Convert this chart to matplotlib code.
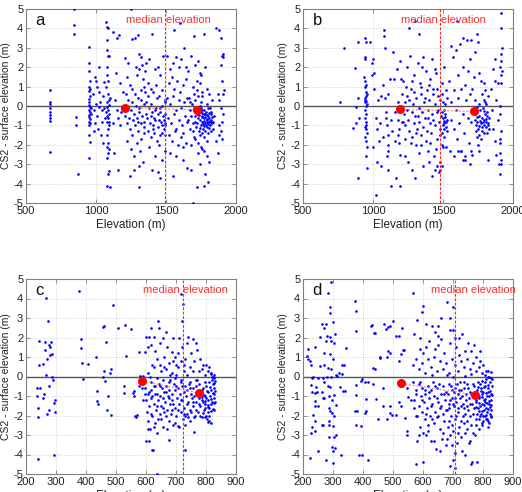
import matplotlib
matplotlib.use('Agg')
import matplotlib.pyplot as plt

plt.rcParams['font.family'] = ['Liberation Sans', 'DejaVu Sans']
plt.rcParams['axes.unicode_minus'] = False

# ---------------- Panel a ----------------
a_pts = [
(668,0.8),(668,0.2),(668,0.1),(668,-0.1),(668,-0.3),(668,-0.45),(668,-0.6),(668,-0.75),(668,-2.35),
(845,5.0),(845,4.2),(845,3.7),(855,-0.55),(860,-1.0),(868,-3.5),
(950,3.05),(948,2.2),(952,1.8),(955,1.3),(950,1.0),(948,0.75),(955,0.5),(950,0.35),(953,0.2),(948,0.05),
(956,-0.05),(950,-0.2),(954,-0.3),(948,-0.45),(952,-0.55),(957,-0.65),(950,-0.8),(955,-0.9),(948,-1.0),
(952,-1.5),(955,-1.85),(948,-2.7),(960,0.9),(962,-0.4),(965,-0.1),
(975,0.6),(985,-0.2),(990,1.5),(995,-0.9),(1000,1.3),(1005,-0.5),(1010,1.0),(1012,-1.2),(1018,2.0),
(1020,0.7),(1025,-0.05),(1030,0.2),(1035,-1.5),(1040,-0.2),(1042,-0.8),(1048,0.5),(1052,-1.9),(1058,-0.1),
(1060,1.25),(1062,-0.6),(1000,0.1),(985,-1.3),
(1075,4.35),(1080,4.05),(1085,4.0),(1078,3.4),(1080,2.9),(1085,2.6),(1082,2.0),(1078,1.6),(1088,1.3),
(1075,1.0),(1085,0.6),(1090,0.3),(1078,0.2),(1092,0.05),(1080,-0.05),(1088,-0.2),(1075,-0.3),(1092,-0.4),
(1082,-0.5),(1086,-0.6),(1078,-0.8),(1090,-1.0),(1084,-1.2),(1076,-1.5),(1088,-1.9),(1080,-2.1),(1090,-2.2),
(1085,-2.4),(1078,-2.7),(1092,-3.35),(1086,-3.5),(1080,-4.1),(1098,-4.2),(1095,-0.8),(1098,0.4),(1096,2.6),
(1120,3.8),(1150,3.5),(1165,3.65),(1135,0.3),(1145,1.7),(1160,-0.6),(1170,1.2),(1175,-1.0),(1150,-0.2),
(1120,-0.9),(1130,-2.4),(1155,-3.3),(1180,-0.3),(1190,0.7),
(1210,2.45),(1230,2.2),(1250,5.0),(1260,3.45),(1280,3.5),(1300,3.65),(1310,2.7),(1320,2.5),(1330,2.1),
(1220,1.5),(1240,1.1),(1260,0.9),(1280,0.6),(1300,0.4),(1320,0.8),(1340,1.0),(1350,0.7),(1230,0.3),
(1250,-0.2),(1270,-0.4),(1290,-0.6),(1310,-0.3),(1330,-0.5),(1345,-0.8),(1220,-0.9),(1240,-1.2),(1260,-1.5),
(1280,-1.0),(1300,-1.3),(1320,-1.7),(1340,-1.1),(1225,-1.8),(1250,-2.2),(1275,-2.6),(1295,-1.9),(1315,-2.3),
(1335,-2.9),(1270,-3.3),(1310,-3.1),(1310,-4.2),(1240,-3.6),(1205,-0.5),(1215,0.6),(1230,-0.1),(1260,0.2),
(1285,0.0),(1305,-0.1),(1325,0.3),(1345,0.1),(1290,1.6),(1310,1.9),(1335,1.4),(1350,1.8),(1285,2.0),
(1300,-0.8),(1325,-0.9),(1265,-0.7),(1235,-0.6),
(1360,2.2),(1380,2.4),(1400,3.7),(1420,1.9),(1440,2.0),(1460,1.6),(1480,2.6),(1370,1.2),(1390,0.9),
(1410,0.7),(1430,1.1),(1450,0.5),(1470,0.8),(1490,0.3),(1360,0.2),(1380,-0.1),(1400,-0.3),(1420,-0.2),
(1440,-0.4),(1460,-0.1),(1480,-0.5),(1365,-0.6),(1385,-0.9),(1405,-1.0),(1425,-0.7),(1445,-1.1),(1465,-0.8),
(1485,-1.2),(1370,-1.3),(1395,-1.6),(1415,-1.4),(1435,-1.8),(1455,-1.5),(1475,-1.0),(1495,-0.9),(1380,-2.1),
(1420,-2.6),(1450,-2.0),(1470,-2.8),(1490,-2.3),(1400,-3.3),(1440,-3.4),(1460,-3.7),(1355,-0.4),(1375,0.5),
(1395,0.1),(1415,-0.6),(1435,0.4),(1455,-0.3),(1475,0.0),(1495,-0.4),(1345,-1.4),(1390,-0.5),(1410,-1.2),
(1430,-0.1),(1450,-0.7),(1470,-1.4),(1488,-0.7),(1492,-1.0),(1490,-1.5),(1492,0.2),
(1510,2.6),(1530,1.9),(1550,2.2),(1570,2.5),(1590,2.0),(1610,2.4),(1640,2.0),(1560,3.9),(1600,4.3),
(1630,3.0),(1520,1.2),(1540,1.5),(1560,0.9),(1580,1.3),(1600,0.7),(1620,1.1),(1645,1.4),(1510,0.4),
(1530,0.1),(1550,0.5),(1570,-0.2),(1590,0.3),(1610,-0.1),(1630,0.2),(1650,0.4),(1515,-0.6),(1535,-0.9),
(1555,-0.4),(1575,-1.2),(1595,-0.7),(1615,-1.0),(1635,-0.5),(1650,-0.8),(1520,-1.5),(1545,-1.8),(1565,-1.3),
(1585,-2.0),(1605,-1.6),(1625,-1.4),(1645,-1.9),(1530,-2.4),(1570,-2.6),(1620,-2.8),(1550,-3.6),(1650,-3.2),
(1680,-3.3),(1690,-5.0),(1620,-2.1),
(1660,1.8),(1680,2.6),(1700,3.6),(1710,2.1),(1730,2.3),(1750,1.6),(1770,3.7),(1780,2.0),(1690,1.0),
(1720,0.8),(1740,1.2),(1760,0.5),(1790,0.9),(1810,0.6),(1830,0.3),(1670,0.2),(1700,-0.1),(1720,-0.3),
(1740,0.0),(1760,-0.2),(1780,-0.4),(1800,-0.1),(1820,-0.3),(1840,-0.5),
(1705,-0.5),(1710,-0.8),(1715,-1.1),(1720,-0.4),(1725,-0.9),(1730,-0.6),(1735,-1.3),(1740,-0.3),(1745,-0.7),
(1750,-1.0),(1755,-0.5),(1760,-0.8),(1765,-1.2),(1770,-0.4),(1775,-0.6),(1780,-0.9),(1785,-0.3),(1790,-0.7),
(1795,-1.1),(1800,-0.5),(1805,-0.8),(1810,-0.6),(1815,-1.0),(1820,-0.4),(1825,-0.7),(1830,-0.9),(1835,-1.2),
(1740,-1.5),(1760,-1.4),(1780,-1.3),(1800,-1.4),(1820,-1.3),(1725,-0.2),(1750,-0.1),(1775,-0.2),(1795,0.1),
(1815,-0.1),(1760,-0.55),(1770,-0.75),(1780,-0.55),(1790,-0.85),(1800,-0.95),(1810,-0.35),(1785,-1.0),
(1765,-0.95),(1755,-0.35),(1745,-1.15),(1735,-0.45),(1790,-0.45),(1805,-1.15),(1820,-0.85),(1775,-1.05),
(1795,-0.65),(1812,-0.75),(1828,-0.55),(1838,-0.8),(1700,-0.2),(1690,-0.9),(1680,-0.5),(1670,-1.2),
(1695,-1.3),(1710,0.3),(1730,0.5),(1750,0.2),(1760,0.7),(1720,1.3),(1740,1.7),(1700,0.6),(1685,0.1),
(1675,-0.2),(1665,0.4),(1660,-0.7),(1770,-1.6),(1790,-1.8),(1750,-2.1),(1730,-2.4),(1710,-1.7),
(1700,-1.6),(1730,-1.9),(1760,-2.2),(1770,-2.3),(1790,-2.6),(1810,-2.9),(1780,-3.5),(1800,-3.9),
(1770,-4.1),(1720,-4.2),(1740,-3.0),(1680,-2.0),
(1860,4.0),(1880,3.9),(1890,3.5),(1900,2.6),(1910,2.5),(1890,2.1),(1900,1.3),(1870,0.6),(1880,0.3),
(1890,-0.1),(1900,-0.8),(1910,-0.4),(1880,-1.0),(1890,-1.3),(1900,-1.7),(1860,-1.8),(1870,-2.4),
(1880,-1.5),(1910,0.6),(1912,0.8),(1905,2.7),
]
a_median = 1490
a_red_x = [1210, 1720]
a_red_y = [-0.08, -0.2]

# ---------------- Panel b ----------------
b_pts = [
(765,0.2),(795,3.0),(860,-1.15),(870,1.95),(880,-0.05),(890,3.3),(895,-3.7),(900,-0.6),(895,0.4),(880,-0.9),
(942,3.5),(948,3.3),(940,2.5),(945,2.4),(938,1.5),(944,1.3),(950,1.1),(942,1.0),(948,0.7),(952,0.5),
(940,0.4),(946,0.3),(950,0.25),(943,0.2),(955,0.1),(948,0.0),(944,-0.2),(952,-0.4),(940,-0.6),(947,-0.8),
(953,-1.0),(941,-1.1),(949,-1.2),(955,-1.4),(945,-1.6),(951,-1.8),(958,-2.1),(948,-2.6),(955,-3.2),(960,0.6),
(980,3.3),(990,2.2),(1000,2.4),(995,1.6),(1000,-2.1),(1005,1.7),(1010,0.9),(1020,-0.6),(1025,-1.2),(1030,-2.9),
(1035,0.3),(1040,-1.8),(1050,-0.9),(1055,-3.1),(1060,0.5),(1070,-1.6),(1075,3.9),(1080,3.6),(1085,3.0),
(1070,1.1),(1085,0.4),(1090,-0.3),(1095,-0.6),(1100,-1.0),(1105,-1.5),(1110,-2.0),(1105,-2.3),(1100,-2.6),
(1110,0.6),(1110,-3.3),(1120,1.4),(1125,-4.1),(1130,-0.7),(1135,-1.3),(1140,2.8),(1150,1.4),(1155,-1.8),
(1160,-0.3),(1165,-3.7),(1170,1.9),(1175,0.2),(1180,-0.2),(1180,-0.7),(1185,-1.2),(1180,-1.5),(1185,-1.9),
(1190,2.3),(1195,-2.5),(1195,-4.1),(1200,1.4),(1210,-0.8),(1020,-4.6),
(1205,0.6),(1215,1.3),(1220,-0.4),(1225,0.2),(1230,-1.0),(1235,1.0),(1240,-0.2),(1245,0.5),(1250,-0.7),
(1255,4.0),(1260,-1.3),(1265,2.6),(1270,0.9),(1275,-0.3),(1280,-1.6),(1285,0.1),(1290,-0.9),(1295,1.6),
(1300,-0.5),(1305,-2.0),(1310,0.4),(1315,-1.2),(1320,2.2),(1325,-0.1),(1330,-0.8),(1335,1.2),(1340,-1.5),
(1345,0.6),(1350,-0.3),(1355,2.5),(1360,-1.1),(1365,0.2),(1370,-0.6),(1375,1.8),(1380,-1.8),(1385,0.8),
(1390,-0.2),(1395,-2.3),(1400,0.3),(1405,-0.9),(1410,1.4),(1415,-1.4),(1420,-0.4),(1425,0.9),(1430,-0.7),
(1435,-2.6),(1440,0.1),(1445,-1.0),(1450,1.7),(1455,-0.3),(1460,-1.7),(1465,0.5),(1470,-0.8),(1475,-1.2),
(1480,0.3),(1485,-0.5),(1490,-2.0),(1230,-2.6),(1250,-2.9),(1280,-3.3),(1300,-3.7),(1330,-2.4),(1360,-3.1),
(1400,-2.9),(1420,-3.6),(1440,-3.3),(1460,-3.1),(1470,-3.4),(1300,4.4),(1330,3.7),(1350,2.0),(1240,2.0),
(1225,-1.7),(1270,-1.9),(1310,-1.4),(1345,-2.0),(1385,-1.3),(1410,-1.9),(1450,-2.2),(1465,-0.2),(1215,-0.8),
(1260,0.3),(1290,0.7),(1320,-0.5),(1370,0.4),(1395,-0.6),(1430,0.6),(1455,0.9),(1280,1.3),(1340,1.0),
(1400,1.1),(1420,2.4),(1440,1.9),
(1495,-0.3),(1500,-0.6),(1505,-0.9),(1510,-1.2),(1515,-0.4),(1520,-0.8),(1505,-0.2),(1498,-1.0),(1512,-0.55),
(1518,-1.1),(1508,-0.75),(1502,0.2),(1515,0.1),(1495,-1.4),(1510,-1.6),(1520,-2.1),(1500,-2.1),(1525,-0.7),
(1530,-1.3),(1528,0.4),(1490,0.6),(1495,1.2),(1510,2.0),(1520,0.8),(1480,-1.5),(1475,-2.9),(1480,-3.3),
(1495,-3.1),
(1545,1.3),(1555,0.2),(1560,-0.7),(1570,2.5),(1575,-1.2),(1580,0.8),(1590,-0.2),(1595,2.9),(1600,-1.7),
(1605,1.6),(1610,0.4),(1615,-0.9),(1620,3.2),(1625,-2.3),(1630,0.9),(1640,-0.4),(1645,2.0),(1650,-1.4),
(1655,1.1),(1660,-2.6),(1665,0.3),(1670,3.4),(1675,-0.6),(1680,1.8),(1685,-1.9),(1690,0.6),(1695,2.4),
(1700,-0.8),(1550,-2.3),(1580,-2.6),(1610,-2.3),(1630,-2.3),(1640,-2.8),(1660,-2.8),(1690,-3.0),(1700,-2.3),
(1710,-2.5),(1560,3.1),(1600,4.4),(1640,3.5),(1700,3.4),(1745,3.7),(1750,3.3),(1730,2.8),(1720,1.5),(1710,0.9),
(1725,-0.4),(1730,-0.7),(1735,-1.0),(1740,-0.3),(1745,-0.8),(1750,-1.2),(1755,-0.5),(1760,-1.5),(1765,-0.2),
(1770,-0.9),(1775,-0.6),(1780,-1.3),(1785,-0.1),(1790,-0.7),(1795,-1.0),(1800,-0.4),(1805,-1.1),(1810,-0.8),
(1815,-0.3),(1820,-1.0),(1825,-0.6),(1828,-1.2),(1790,0.3),(1800,0.2),(1810,0.1),(1795,-1.4),(1815,-0.5),
(1805,-0.65),(1775,-1.1),(1765,-0.75),(1755,-1.05),(1745,-0.55),(1735,-1.3),(1785,-0.85),(1795,-0.25),
(1820,-0.9),(1812,-1.4),(1760,0.1),(1740,-1.6),(1750,-2.0),(1770,-1.7),(1780,0.6),(1770,1.3),(1760,1.7),
(1790,1.2),(1800,0.8),(1820,0.5),(1840,0.9),(1850,-0.2),(1860,1.9),(1870,1.3),(1880,0.3),(1890,-0.7),
(1860,-1.2),(1870,-1.8),(1880,-2.5),(1890,1.2),(1870,2.4),(1820,-2.8),(1760,-2.3),(1740,-0.05),(1730,0.3),
(1915,4.8),(1915,4.0),(1918,3.0),(1912,2.7),(1915,2.3),(1910,2.0),(1918,1.8),(1912,1.6),(1915,1.2),
(1905,0.0),(1910,-0.4),(1912,-1.3),(1905,-1.7),(1908,-2.4),(1915,-2.8),(1912,-3.0),(1910,-3.5),(1900,-3.0),
(1905,-1.9),
]
b_median = 1475
b_red_x = [1195, 1720]
b_red_y = [-0.18, -0.28]

# ---------------- Panel c ----------------
c_pts = [
(235,-0.6),(238,-1.0),(240,-1.6),(240,-2.1),(240,-4.25),(243,1.8),(242,0.6),(245,-0.6),(255,-1.1),(258,0.65),
(260,-0.9),(262,1.75),(263,1.35),(265,4.05),(266,0.1),(270,0.9),(270,-1.9),(272,2.85),(275,1.6),(278,-0.5),
(280,1.1),(280,1.5),(283,1.75),(285,0.0),(290,-0.2),(292,-1.35),(292,-4.05),(295,-1.8),(298,-1.2),
(285,1.15),(278,-1.7),
(378,4.4),(382,1.9),(383,1.45),(387,0.7),(390,-0.15),(405,0.65),(433,1.0),(435,-0.75),(438,-1.25),(440,-1.4),
(455,0.0),(458,2.55),(459,2.6),(460,0.3),(462,-0.25),(466,1.75),(470,-1.7),(472,-1.0),(480,0.2),(483,0.4),
(483,-1.95),(490,3.65),(505,2.5),(525,-0.5),(527,-0.85),(530,2.65),(532,1.05),(550,2.45),(555,-0.85),
(560,-0.75),(560,-1.0),(562,-2.05),(565,-2.1),(570,-1.95),(575,1.25),(578,-0.5),(580,0.05),(590,0.05),
(595,1.25),(600,2.05),(605,1.5),(610,2.05),(612,-0.05),(615,2.5),(618,1.6),(620,0.6),(625,2.05),(630,1.3),
(635,0.9),(640,2.85),(642,2.5),(645,1.7),(650,0.3),(655,2.0),(660,1.0),(665,2.3),(670,1.5),(675,0.7),
(680,0.1),(685,1.25),(690,2.0),(695,1.0),(700,0.6),(705,1.2),(710,2.0),(715,0.8),(720,1.5),(725,0.3),
(730,0.9),(735,1.7),(740,2.05),(745,0.5),(750,1.2),(755,1.9),(760,0.8),(765,1.7),(770,1.35),(775,0.3),
(780,0.9),(785,0.4),(790,0.6),(795,0.1),(800,0.6),(805,0.3),(810,0.5),(815,0.2),(820,0.0),(825,-0.1),
(605,0.2),(615,-0.3),(625,0.5),(635,-0.1),(645,0.6),(655,-0.2),(665,0.4),(675,-0.3),(685,0.2),(695,-0.1),
(705,0.5),(715,-0.2),(725,0.6),(735,0.1),(745,-0.3),(755,0.3),(765,-0.2),(700,0.1),(690,0.8),(660,0.5),
(630,-0.5),
(595,-0.6),(600,-1.2),(602,-1.8),(605,-0.9),(608,-2.3),(610,-1.5),(612,-2.7),(615,-0.7),(618,-1.1),(620,-2.0),
(622,-3.75),(625,-1.4),(628,-0.5),(630,-2.4),(632,-1.7),(635,-0.9),(638,-2.9),(640,-1.2),(642,-0.4),(645,-1.9),
(648,-1.0),(650,-2.2),(652,-0.6),(655,-1.6),(658,-2.6),(660,-0.8),(662,-1.3),(665,-2.0),(668,-0.5),(670,-1.7),
(672,-1.0),(675,-2.3),(678,-0.7),(680,-1.4),(682,-1.9),(685,-0.9),(688,-1.2),(690,-2.5),(692,-0.4),(695,-1.6),
(698,-0.7),(700,-2.0),(702,-1.1),(705,-2.55),(708,-0.6),(710,-1.4),(712,-0.9),(715,-1.8),(718,-0.3),(720,-1.2),
(722,-2.2),(725,-0.8),(728,-1.6),(730,-0.5),(732,-1.0),(735,-1.9),(738,-0.7),(740,-1.3),(742,-0.4),(745,-1.7),
(748,-2.3),(750,-0.9),(752,-1.1),(755,-0.6),(758,-1.5),(760,-1.0),(762,-2.0),(765,-0.5),(768,-1.3),(770,-0.8),
(772,-1.8),(775,-1.1),(778,-0.4),(780,-1.5),(782,-0.9),(785,-2.1),(788,-1.2),(790,-0.6),(792,-1.7),(795,-1.0),
(798,-1.4),(800,-0.5),(802,-2.2),(805,-1.2),(808,-0.8),(810,-1.6),(812,-1.0),(815,-2.4),(818,-0.7),(820,-1.3),
(822,-0.4),(825,-1.1),(828,-0.9),(830,-1.3),(828,-0.6),(825,-1.7),(820,-0.2),(815,-1.4),(810,-0.3),(805,-1.8),
(800,-1.1),(795,-0.3),(790,-1.3),(785,-0.7),(780,-2.0),(775,-1.4),(770,-0.2),(765,-1.7),(760,-2.1),(755,-1.3),
(750,-1.8),(745,-0.6),(740,-2.1),(735,-1.4),(730,-2.0),(725,-1.9),(720,-0.5),(715,-1.2),(710,-2.6),(705,-1.7),
(700,-0.5),(695,-2.4),(690,-1.4),(685,-1.7),(680,-0.2),(675,-1.1),(670,-2.7),(665,-0.8),(660,-1.8),(655,-1.1),
(650,-1.5),(645,-0.5),(640,-2.2),(635,-1.5),(630,-0.9),(625,-2.6),(620,-1.0),(615,-1.9),(610,-0.8),(605,-2.7),
(600,-3.3),(598,-0.9),(590,-1.2),(585,-0.6),(620,-3.75),(610,-3.3),(678,-3.25),(635,-5.0),(730,-3.75),
(760,-2.85),(730,-2.5),
(792,-0.95),(798,-1.25),(803,-0.75),(808,-1.45),(813,-0.55),(817,-1.15),(822,-0.85),(826,-1.35),(829,-0.75),
(795,-1.6),(805,-1.55),(815,-1.75),(823,-1.65),(785,-1.05),(780,-0.75),(790,-1.85),(800,-2.0),(810,-2.0),
(810,-2.3),(805,-2.35),(795,-2.1),(825,-0.35),(829,-0.25),(826,0.1),(823,-0.05),(818,0.15),
(715,4.25),(720,2.85),(723,3.7),
]
c_median = 722
c_red_x = [585, 776]
c_red_y = [-0.22, -0.85]

# ---------------- Panel d ----------------
d_pts = [
(293,4.84),(283,4.26),(289,3.55),(291,3.24),(374,3.89),(378,3.38),(300,2.78),(278,2.71),(262,2.71),(270,2.49),
(306,2.2),(378,2.33),(256,2.04),(281,2.06),(294,1.84),(303,1.72),(241,1.51),(217,1.43),(342,1.46),(269,1.22),
(289,1.14),(300,0.9),(214,1.07),(222,0.81),(258,0.52),(269,0.57),(284,0.44),(294,0.38),(330,0.57),(433,0.44),
(456,0.95),(483,1.29),(481,1.02),(437,2.21),(430,2.66),(483,2.54),(500,2.83),(530,2.49),(511,2.06),(533,1.36),
(526,1.14),(478,2.45),
(233,-0.03),(250,-0.06),(267,-0.08),(280,-0.04),(294,0.0),(311,0.06),(331,0.13),(394,-0.21),(417,-0.28),
(433,-0.38),(378,-0.45),(228,-0.45),(244,-0.56),(283,-0.5),(333,-0.76),(239,-0.85),(267,-1.1),(287,-1.02),
(298,-1.19),(239,-1.27),(378,-0.93),(411,-1.17),(444,-1.14),(311,-1.44),(239,-1.53),(467,-1.53),(520,-1.31),
(528,-1.53),(374,-1.79),(406,-1.89),(289,-1.79),(233,-1.96),(450,-2.18),(489,-1.87),(511,-1.99),(239,-2.3),
(267,-2.5),(287,-2.47),(378,-2.5),(239,-2.78),(287,-3.12),(303,-3.12),(228,-2.9),(250,-3.8),(298,-3.63),
(300,-3.84),(328,-4.01),(387,-4.0),(224,-4.2),(276,-4.3),(300,-4.43),(417,-4.3),
(275,1.8),(290,2.05),(262,-0.8),(270,-0.3),(290,-0.55),(302,-0.95),(302,-2.05),(230,-0.8),(245,-0.8),
(250,-1.5),(285,-2.3),(300,-2.55),(310,-3.0),(305,-3.65),(340,-0.75),(335,0.6),(312,0.05),(322,-0.55),
(320,0.2),(230,-2.6),(262,-2.5),(270,-1.1),(288,-1.6),(297,-1.85),(215,0.9),(225,0.6),(230,-0.1),
(425,2.6),(440,2.25),(470,2.7),(490,2.6),(520,2.1),(395,-0.15),(405,-0.3),(465,-0.6),(480,-2.2),
(490,-1.5),(498,-1.95),(540,-2.15),(545,-3.0),(548,-2.8),(550,-1.05),(380,-1.75),(392,-2.55),(395,-4.0),
(410,-1.75),(440,0.4),(455,1.0),(490,1.2),(520,0.8),(538,1.35),(548,-0.6),(560,-1.2),
(565,4.3),(595,3.3),(600,3.6),(650,2.6),(660,3.0),(680,3.8),(690,3.0),(700,3.55),(700,2.4),(705,2.0),
(580,2.9),(610,2.7),(630,2.6),(640,2.3),(650,1.6),(570,2.2),(590,2.0),(600,1.2),(620,1.8),(640,1.4),
(660,1.9),(670,1.2),(690,1.7),(710,1.5),(720,1.1),(730,2.2),(750,1.7),(760,1.3),(775,1.0),(790,0.8),
(800,0.6),(810,0.3),(820,0.0),(565,0.6),(575,0.9),(585,0.4),(595,0.7),(605,0.2),(615,0.9),(625,0.5),
(635,1.0),(645,0.3),(655,0.8),(665,0.4),(675,0.7),(685,0.2),(695,0.9),(705,0.6),(715,0.3),(725,0.8),
(735,0.5),(745,0.9),(755,0.4),(765,0.7),(775,0.3),(785,0.5),(795,0.2),(805,0.1),(815,0.3),(825,-0.1),
(720,2.0),(690,2.4),(740,1.3),(770,1.6),(790,1.3),(650,2.1),(590,1.4),(610,1.5),(630,0.1),(680,0.1),
(700,-0.05),(740,0.05),(760,0.15),
(565,-0.3),(570,-1.2),(575,-2.0),(578,-0.7),(580,-3.3),(585,-1.5),(588,-0.4),(590,-2.6),(592,-1.0),(595,-1.8),
(598,-0.6),(600,-4.4),(602,-1.3),(605,-2.2),(608,-0.9),(610,-3.0),(612,-1.6),(615,-0.5),(618,-2.8),(620,-1.1),
(622,-2.0),(625,-0.7),(628,-3.3),(630,-1.4),(632,-0.3),(635,-2.4),(638,-1.0),(640,-1.8),(642,-3.7),(645,-0.6),
(648,-2.1),(650,-1.3),(652,-0.4),(655,-2.7),(658,-1.6),(660,-0.9),(662,-3.2),(665,-1.9),(668,-0.5),(670,-2.3),
(672,-1.2),(675,-3.5),(678,-0.8),(680,-1.7),(682,-2.6),(685,-0.4),(688,-1.4),(690,-3.0),(692,-2.0),(695,-0.7),
(698,-1.1),(700,-2.8),(702,-1.5),(705,-4.7),(706,-0.6),(708,-2.2),(710,-1.3),(712,-3.4),(715,-0.9),(718,-1.8),
(720,-2.6),(722,-0.3),(725,-1.5),(728,-3.1),(730,-1.0),(732,-2.0),(735,-0.6),(738,-1.6),(740,-2.9),(742,-1.2),
(745,-0.4),(748,-2.3),(750,-1.7),(752,-3.4),(755,-0.8),(758,-1.4),(760,-2.5),(762,-4.4),(765,-1.0),(768,-1.9),
(770,-0.5),(772,-3.0),(775,-1.3),(778,-2.2),(780,-0.7),(782,-1.6),(785,-2.7),(788,-1.1),(790,-0.4),(792,-1.9),
(795,-1.4),(798,-2.4),(800,-0.8),(802,-1.2),(805,-2.0),(808,-0.5),(810,-1.6),(812,-1.0),(815,-2.3),(818,-0.6),
(820,-1.4),(822,-1.9),(825,-0.9),(828,-1.2),(830,-0.5),(828,-1.7),(825,-2.1),(822,-0.3),(820,-1.0),(818,-2.6),
(815,-0.8),(812,-1.8),(810,-2.2),(808,-1.3),(805,-0.3),(802,-1.7),(800,-2.0),(798,-0.9),(795,-2.5),(792,-0.6),
(790,-1.5),(788,-2.2),(785,-1.0),(782,-0.3),(780,-1.9),(778,-1.2),(775,-2.5),(772,-0.8),(770,-1.6),(768,-2.9),
(765,-0.4),(762,-1.4),(760,-0.9),(758,-2.0),(755,-3.3),(752,-1.1),(750,-0.6),(748,-1.5),(745,-2.7),(742,-0.9),
(740,-1.9),(738,-0.3),(735,-2.4),(732,-1.4),(730,-3.8),(728,-0.7),(725,-2.3),(722,-1.1),(720,-0.7),(718,-2.9),
(715,-1.6),(712,-0.4),(710,-2.0),(708,-1.1),(705,-3.9),(702,-0.8),(700,-1.4),(698,-2.5),(695,-3.5),(692,-0.5),
(690,-1.2),(688,-2.3),(685,-1.6),(682,-0.9),(680,-3.2),(675,-1.7),(670,-0.9),(665,-2.9),(660,-1.5),(655,-3.8),
(650,-2.0),(645,-1.1),(640,-0.5),(635,-3.3),(630,-2.2),(625,-1.5),(620,-0.8),(615,-2.5),(610,-1.9),(605,-0.7),
(600,-2.9),(595,-1.2),(590,-0.3),(585,-3.0),(580,-2.0),(575,-0.9),(570,-1.6),(575,-4.5),(700,-4.3),(760,-4.5),
(780,-4.4),(740,-4.0),(690,-4.6),
(793,-0.75),(797,-1.05),(803,-0.55),(806,-1.15),(811,-0.85),(814,-1.35),(817,-0.45),(821,-1.25),(824,-0.75),
(827,-1.45),(829,-0.95),(796,-1.75),(804,-1.45),(809,-1.95),(816,-1.65),(823,-1.55),(827,-2.0),(813,-2.2),
(819,-2.4),(801,-2.3),(795,-0.25),(809,-0.15),(818,-0.05),(826,0.25),(829,-0.15),(783,-0.55),(787,-1.35),
(778,-0.95),(786,-1.75),(776,-1.55),(791,-2.05),
]
d_median = 705
d_red_x = [527, 773]
d_red_y = [-0.35, -0.95]

panel_letters = ['a', 'b', 'c', 'd']
xlims = [(500, 2000), (500, 2000), (200, 900), (200, 900)]
xticks_list = [[500, 1000, 1500, 2000], [500, 1000, 1500, 2000],
               list(range(200, 901, 100)), list(range(200, 901, 100))]
yticks = list(range(-5, 6))
median_text_x = [1520, 1500, 733, 768]

W, H = 522, 492
fig = plt.figure(figsize=(W / 100, H / 100), dpi=100)
boxes = [(26, 9, 210, 194), (303, 9, 210, 194), (26, 279, 210, 195), (303, 279, 210, 195)]

datasets = [
    (a_pts, a_median, a_red_x, a_red_y),
    (b_pts, b_median, b_red_x, b_red_y),
    (c_pts, c_median, c_red_x, c_red_y),
    (d_pts, d_median, d_red_x, d_red_y),
]

for i, (box, (pts, med, rx, ry)) in enumerate(zip(boxes, datasets)):
    l, t, w, h = box
    ax = fig.add_axes([l / W, 1 - (t + h) / H, w / W, h / H])
    xs = [p[0] for p in pts]
    ys = [p[1] for p in pts]
    ax.set_xlim(*xlims[i])
    ax.set_ylim(-5, 5)
    ax.set_xticks(xticks_list[i])
    ax.set_yticks(yticks)
    ax.grid(True, ls=':', color='#c8c8c8', lw=0.6)
    ax.set_axisbelow(True)
    ax.axhline(0, color='#555555', lw=1.0, zorder=2)
    ax.plot(xs, ys, 'o', color='#0000ff', ms=1.9, mew=0, zorder=3)
    ax.plot([med, med], [-5, 5], color='#ff2020', lw=0.8, ls=(0, (2.5, 1.5)), zorder=4)
    ax.plot(rx, ry, color='#ff8080', lw=0.8, ls=(0, (2, 1.5)), zorder=4)
    ax.plot(rx, ry, 'o', color='#ff0000', ms=6.5, mew=0, ls='none', zorder=5)
    ax.text(median_text_x[i], 4.45, 'median elevation', color='#ff3030', fontsize=8,
            ha='center', va='center', zorder=6)
    ax.text(0.045, 0.94, panel_letters[i], transform=ax.transAxes, fontsize=12,
            ha='left', va='center', color='#111111')
    for s in ax.spines.values():
        s.set_color('#808080')
        s.set_linewidth(0.8)
    ax.tick_params(direction='in', length=3, width=0.6, color='#808080',
                   labelsize=8, labelcolor='#222222', top=True, right=True, pad=2)
    ax.set_xlabel('Elevation (m)', fontsize=8.5, color='#222222', labelpad=2)
    ax.set_ylabel('CS2 - surface elevation (m)', fontsize=7.5, color='#222222')
    ax.yaxis.set_label_coords(-0.072, 0.5)

fig.savefig('out.png', dpi=100)
